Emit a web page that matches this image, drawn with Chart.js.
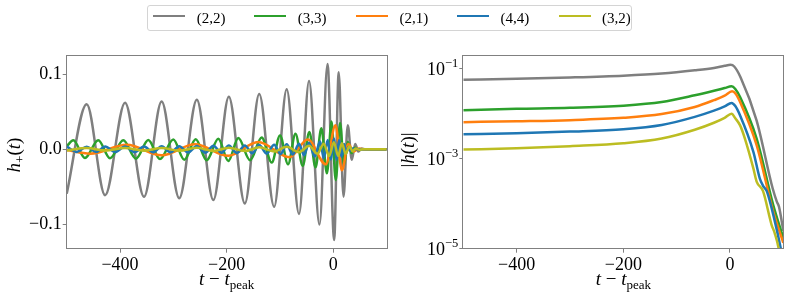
<!DOCTYPE html>
<html><head><meta charset="utf-8">
<script src="https://cdn.jsdelivr.net/npm/chart.js@4"></script>
<style>
html,body{margin:0;padding:0;background:#fff;width:789px;height:298px;overflow:hidden;}
#wrap{position:relative;width:789px;height:298px;}
canvas{position:absolute;top:0;}
#c1{left:0}
#c2{left:395px}
#legend{position:absolute;left:147px;top:5px;width:485px;height:26px;border:1px solid #d4d4d4;border-radius:3px;box-sizing:border-box;font-family:'Liberation Serif',serif;font-size:15px;color:#000;}
.ll{position:absolute;height:2.5px;width:32px;top:8.5px}
.lt{position:absolute;top:4px;line-height:17px;white-space:nowrap}
</style></head><body>
<div id="wrap">
<canvas id="c1" width="395" height="298"></canvas>
<canvas id="c2" width="394" height="298"></canvas>
<div id="legend"></div>
</div>
<script>
// ---------- categories / styling keys ----------
const modes  = ['(2,2)', '(3,3)', '(2,1)', '(4,4)', '(3,2)'];
const colors = ['#7f7f7f', '#2ca02c', '#ff7f0e', '#1f77b4', '#bcbd22'];

// ---------- tick values ----------
const xTicks   = [-400, -200, 0];
const hTicks   = [-0.1, 0, 0.1];
const ampTicks = [1e-5, 1e-3, 1e-1];

// ---------- left panel: h_+(t) (extrema) ----------
const t22 = [-500, -462.5, -428, -390.6, -355, -322, -289, -256, -225, -196, -166, -139, -111, -87.5, -64.4, -45.6, -26, -11, 1.5, 10, 19, 27, 34.5, 41, 47, 53, 60, 100];
const h22 = [-0.059, 0.060, -0.061, 0.062, -0.063, 0.0635, -0.065, 0.066, -0.0675, 0.070, -0.072, 0.0735, -0.0765, 0.080, -0.086, 0.091, -0.100, 0.1135, -0.1205, 0.1025, -0.063, 0.032, -0.014, 0.007, -0.003, 0.001, 0, 0];

const t33 = [-500, -487.6, -465.7, -440.8, -418.8, -393.9, -370.1, -347, -325.1, -300.1, -279.5, -258.1, -237.5, -215.7, -197, -178.2, -156.3, -134.4, -115.6, -100, -85, -71, -57.5, -45, -33.5, -22.5, -12, -3.5, 4.5, 12.5, 20, 27, 34, 40, 46, 52, 100];
const h33 = [0.004, 0.0119, -0.0115, 0.0119, -0.012, 0.012, -0.0125, 0.0125, -0.013, 0.0132, -0.014, 0.0135, -0.0146, 0.014, -0.0155, 0.0149, -0.0146, 0.0158, -0.0177, 0.0185, -0.020, 0.0206, -0.022, 0.023, -0.024, 0.028, -0.032, 0.037, -0.041, 0.035, -0.021, 0.010, -0.005, 0.002, 0, 0, 0];

const t21 = [-500, -456, -387.5, -322, -259.5, -197, -141, -82, -48, -14, 4, 16, 28, 38, 48, 58, 100];
const h21 = [-0.001, -0.0058, 0.0060, -0.0080, 0.0066, -0.0086, 0.0096, -0.0105, 0.013, -0.020, 0.032, -0.028, 0.007, -0.003, 0.001, 0, 0];

const t44 = [-500, -481, -462.5, -445, -428, -409, -390.6, -373, -355, -338, -322, -305, -289, -272, -256, -240, -225, -210, -196, -181, -166, -152, -139, -125, -111, -99, -87.5, -76, -64.4, -55, -45.6, -35, -25, -18, -10.6, -4.7, 1.2, 6, 10.6, 15.3, 20, 24, 28, 31.5, 35, 45, 100];
const h44 = [0.0035, -0.0035, 0.0035, -0.0036, 0.0036, -0.0037, 0.0037, -0.0038, 0.0038, -0.0039, 0.0040, -0.0041, 0.0042, -0.0043, 0.0044, -0.0045, 0.0046, -0.0047, 0.0049, -0.0050, 0.0052, -0.0054, 0.0056, -0.0058, 0.0060, -0.0063, 0.0067, -0.0070, 0.0075, -0.0080, 0.0088, -0.0095, 0.0105, -0.0115, 0.0125, -0.0135, 0.0145, -0.0140, 0.0125, -0.0100, 0.0070, -0.0050, 0.0030, -0.0020, 0.0010, 0, 0];

const t32 = [-500, -462.5, -428, -390.6, -355, -322, -289, -256, -225, -196, -166, -139, -111, -87.5, -64.4, -45.6, -30, -18, -8, 1, 9, 16, 23, 30, 36, 42, 48, 55, 100];
const h32 = [-0.0016, 0.0016, -0.0017, 0.0017, -0.0018, 0.0018, -0.0019, 0.0020, -0.0021, 0.0022, -0.0024, 0.0026, -0.0029, 0.0033, -0.0038, 0.0046, -0.0060, 0.0075, -0.0090, 0.0095, -0.0090, 0.0080, -0.0060, 0.0040, -0.0025, 0.0012, -0.0005, 0, 0];

// ---------- right panel: |h(t)| ----------
const ta22 = [-500, -400, -300, -200, -128, -66, -30, -10, 1, 8, 20, 50, 80, 88, 92, 100];
const a22  = [0.057, 0.060, 0.064, 0.070, 0.078, 0.092, 0.104, 0.116, 0.122, 0.112, 0.064, 0.0070, 2.2e-4, 1.1e-4, 8.5e-5, 2.5e-5];

const ta33 = [-500, -400, -300, -200, -128, -66, -30, -10, 3, 10, 19, 50, 81, 100];
const a33  = [0.0120, 0.0129, 0.0135, 0.0151, 0.0182, 0.0257, 0.0324, 0.0372, 0.0407, 0.0355, 0.0234, 0.0028, 9.5e-5, 1.74e-5];

const ta21 = [-500, -400, -300, -200, -128, -66, -30, -10, 4, 11, 19, 50, 81, 100];
const a21  = [0.0065, 0.0068, 0.0072, 0.0081, 0.0098, 0.0141, 0.020, 0.0251, 0.0316, 0.0275, 0.0182, 0.0020, 6.8e-5, 1.35e-5];

const ta44 = [-500, -400, -300, -200, -128, -66, -30, -10, 3, 10, 19, 44, 56, 62, 69, 84, 95, 100];
const a44  = [0.0035, 0.0037, 0.0040, 0.0045, 0.0056, 0.0085, 0.0117, 0.0145, 0.0174, 0.0148, 0.0091, 0.0014, 3.6e-4, 2.5e-4, 1.9e-4, 4.1e-5, 1.05e-5, 5e-6];

const ta32 = [-500, -400, -300, -200, -128, -66, -30, -10, 3, 10, 19, 28, 44, 50, 62, 78, 84, 91, 96];
const a32  = [0.0016, 0.0017, 0.0019, 0.0022, 0.0028, 0.0044, 0.0063, 0.0081, 0.0100, 0.0079, 0.0055, 0.0028, 6.0e-4, 3.1e-4, 1.9e-4, 3.4e-5, 2.2e-5, 1.05e-5, 4e-6];

// ---------- helpers ----------
const FONT = "'Liberation Serif', 'Times New Roman', serif";
const AXIS = '#808080';
const pts = (ts, vs) => ts.map((t, i) => ({x: t, y: vs[i]}));
const minus = s => s.replace('-', '\u2212');

const leftSeries  = [[t22, h22], [t33, h33], [t21, h21], [t44, h44], [t32, h32]];
const rightSeries = [[ta22, a22], [ta33, a33], [ta21, a21], [ta44, a44], [ta32, a32]];

function datasets(series) {
  return series.map((s, i) => ({
    label: modes[i],
    data: pts(s[0], s[1]),
    borderColor: colors[i],
    backgroundColor: colors[i],
    borderWidth: 2.5,
    pointRadius: 0,
    fill: false,
    cubicInterpolationMode: 'monotone',
    order: i + 1 === 1 ? 5 : 5 - i,
    clip: 0
  }));
}

function drawRuns(ctx, runs, x, y, align) {
  let w = 0;
  runs.forEach(r => {
    ctx.font = (r.it ? 'italic ' : '') + r.s + 'px ' + FONT;
    r.w = ctx.measureText(r.t).width;
    w += r.w;
  });
  let cx = align === 'center' ? x - w / 2 : (align === 'right' ? x - w : x);
  runs.forEach(r => {
    ctx.font = (r.it ? 'italic ' : '') + r.s + 'px ' + FONT;
    ctx.fillText(r.t, cx, y + (r.dy || 0));
    cx += r.w;
  });
}

const decor = {
  id: 'decor',
  afterDraw(chart, args, o) {
    const ctx = chart.ctx, a = chart.chartArea;
    ctx.save();
    ctx.strokeStyle = AXIS;
    ctx.lineWidth = 1;
    ctx.strokeRect(Math.round(a.left) - 0.5, Math.round(a.top) + 0.5, Math.round(a.right - a.left) + 1, Math.round(a.bottom - a.top) - 1);
    ctx.fillStyle = '#000';
    ctx.textBaseline = 'alphabetic';
    // x label
    drawRuns(ctx, o.xLabel, (a.left + a.right) / 2, o.xLabelY, 'center');
    // y label (rotated)
    ctx.save();
    ctx.translate(o.yLabelX, o.yLabelY);
    ctx.rotate(-Math.PI / 2);
    drawRuns(ctx, o.yLabel, 0, 0, 'center');
    ctx.restore();
    // power-of-ten labels
    if (o.pow) {
      const ys = chart.scales.y;
      ampTicks.forEach(v => {
        const py = ys.getPixelForValue(v);
        const e = Math.round(Math.log10(v));
        drawRuns(ctx, [{t: '10', s: 18}, {t: minus(String(e)), s: 12.5, dy: -8}], a.left - 5, py + 6, 'right');
      });
    }
    ctx.restore();
  }
};

const xLabelRuns = [{t: 't', it: 1, s: 19}, {t: ' \u2212 ', s: 19}, {t: 't', it: 1, s: 19}, {t: 'peak', s: 13, dy: 4}];

function xScale() {
  return {
    type: 'linear', min: -500, max: 100, bounds: 'data',
    afterBuildTicks: s => { s.ticks = xTicks.map(v => ({value: v})); },
    afterFit: s => { s.height = 49.3; },
    grid: {drawOnChartArea: false, drawTicks: true, tickLength: 4, color: AXIS, lineWidth: 1},
    border: {display: false},
    ticks: {font: {family: FONT, size: 18}, color: '#000', padding: 2, maxRotation: 0, autoSkip: false,
            callback: v => minus(String(v))}
  };
}

Chart.defaults.animation = false;

new Chart(document.getElementById('c1'), {
  type: 'line',
  data: {datasets: datasets(leftSeries)},
  plugins: [decor],
  options: {
    responsive: false, animation: false, devicePixelRatio: 1,
    layout: {padding: {left: 0, top: 54.5, right: 8.3, bottom: 0}},
    plugins: {legend: {display: false}, tooltip: {enabled: false},
      decor: {xLabel: xLabelRuns, xLabelY: 285,
              yLabel: [{t: 'h', it: 1, s: 19}, {t: '+', s: 13, dy: 4}, {t: '(', s: 19}, {t: 't', it: 1, s: 19}, {t: ')', s: 19}],
              yLabelX: 20, yLabelY: 155, pow: false}},
    scales: {
      x: xScale(),
      y: {
        type: 'linear', min: -0.1322, max: 0.1261, bounds: 'data',
        afterBuildTicks: s => { s.ticks = hTicks.map(v => ({value: v})); },
        afterFit: s => { s.width = 66.7; },
        grid: {drawOnChartArea: false, drawTicks: true, tickLength: 4, color: AXIS, lineWidth: 1},
        border: {display: false},
        ticks: {font: {family: FONT, size: 18}, color: '#000', padding: 1, autoSkip: false,
                callback: v => minus(Number(v).toFixed(1))}
      }
    }
  }
});

new Chart(document.getElementById('c2'), {
  type: 'line',
  data: {datasets: datasets(rightSeries)},
  plugins: [decor],
  options: {
    responsive: false, animation: false, devicePixelRatio: 1,
    layout: {padding: {left: 0, top: 54.5, right: 5.7, bottom: 0}},
    plugins: {legend: {display: false}, tooltip: {enabled: false},
      decor: {xLabel: xLabelRuns, xLabelY: 285,
              yLabel: [{t: '|', s: 19}, {t: 'h', it: 1, s: 19}, {t: '(', s: 19}, {t: 't', it: 1, s: 19}, {t: ')', s: 19}, {t: '|', s: 19}],
              yLabelX: 19, yLabelY: 150, pow: true}},
    scales: {
      x: xScale(),
      y: {
        type: 'logarithmic', min: 1e-5, max: 0.207, bounds: 'data',
        afterBuildTicks: s => { s.ticks = ampTicks.map(v => ({value: v, major: true})); },
        afterFit: s => { s.width = 68.3; },
        grid: {drawOnChartArea: false, drawTicks: true, tickLength: 4, color: AXIS, lineWidth: 1},
        border: {display: false},
        ticks: {autoSkip: false, callback: () => ''}
      }
    }
  }
});

// ---------- legend ----------
const legend = document.getElementById('legend');
const lineX = [5.3, 106.3, 208, 309, 410.7];
modes.forEach((m, i) => {
  const l = document.createElement('div');
  l.className = 'll';
  l.style.left = lineX[i] + 'px';
  l.style.background = colors[i];
  legend.appendChild(l);
  const t = document.createElement('span');
  t.className = 'lt';
  t.style.left = (lineX[i] + 43.4) + 'px';
  t.textContent = m;
  legend.appendChild(t);
});
</script>
</body></html>
